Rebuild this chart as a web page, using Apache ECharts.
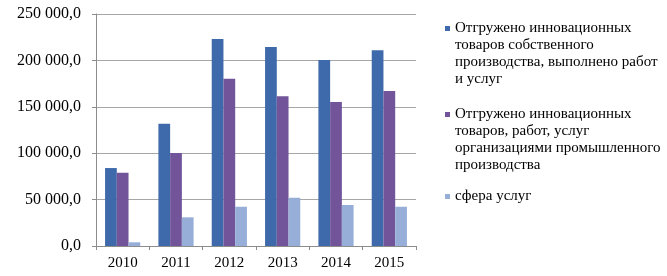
<!DOCTYPE html>
<html>
<head>
<meta charset="utf-8">
<script src="https://cdn.jsdelivr.net/npm/echarts@6/dist/echarts.min.js"></script>
<style>
  html, body { margin: 0; padding: 0; background: #fff; }
  #chart { width: 667px; height: 276px; }
</style>
</head>
<body>
<div id="chart"></div>
<script>
var years = ['2010', '2011', '2012', '2013', '2014', '2015'];

var ownProduction = [84000, 131800, 223000, 214400, 200400, 210900];
var industrialOrgs = [79000, 100300, 180300, 161300, 155200, 167000];
var services = [4000, 30900, 42300, 52000, 44200, 42300];

var seriesNames = [
    'Отгружено инновационных\nтоваров собственного\nпроизводства, выполнено работ\nи услуг',
    'Отгружено инновационных\nтоваров, работ, услуг\nорганизациями промышленного\nпроизводства',
    'сфера услуг'
];

var colors = ['#3e6aab', '#71549a', '#97afd8'];

var fmt = function (v) {
    var s = Math.round(v).toString().replace(/\B(?=(\d{3})+(?!\d))/g, ' ');
    return s + ',0';
};

// square marker sitting on the first text line of a 4-line legend entry
var topIcon = 'path://M0,0L0,0M0,68L0,68M0,6L5,6L5,11L0,11Z';

var legendText = {
    fontFamily: 'Liberation Serif',
    fontSize: 15,
    color: '#000',
    lineHeight: 17
};

var makeLegend = function (name, top, icon, h) {
    return {
        orient: 'vertical',
        left: 445,
        top: top,
        padding: 0,
        itemWidth: 5,
        itemHeight: h,
        icon: icon,
        data: [name],
        textStyle: legendText
    };
};

var chart = echarts.init(document.getElementById('chart'));

chart.setOption({
    animation: false,
    color: colors,
    textStyle: { fontFamily: 'Liberation Serif' },
    grid: { left: 96, right: 251, top: 14, bottom: 30 },
    legend: [
        makeLegend(seriesNames[0], 20, topIcon, 68),
        makeLegend(seriesNames[1], 106, topIcon, 68),
        makeLegend(seriesNames[2], 188, 'rect', 5)
    ],
    xAxis: {
        type: 'category',
        data: years,
        axisLine: { lineStyle: { color: '#8c8c8c' } },
        axisTick: { show: true, length: 4, lineStyle: { color: '#8c8c8c' } },
        axisLabel: { color: '#000', fontSize: 15, margin: 10, fontFamily: 'Liberation Serif' }
    },
    yAxis: {
        type: 'value',
        min: 0,
        max: 250000,
        interval: 50000,
        axisLine: { show: true, lineStyle: { color: '#8c8c8c' } },
        axisTick: { show: true, length: 4, lineStyle: { color: '#8c8c8c' } },
        splitLine: { lineStyle: { color: '#a6a6a6' } },
        axisLabel: {
            color: '#000',
            fontSize: 16,
            margin: 15,
            fontFamily: 'Liberation Serif',
            formatter: fmt
        }
    },
    series: [
        { name: seriesNames[0], type: 'bar', data: ownProduction, barGap: '0%', barCategoryGap: '34%' },
        { name: seriesNames[1], type: 'bar', data: industrialOrgs, barGap: '0%', barCategoryGap: '34%' },
        { name: seriesNames[2], type: 'bar', data: services, barGap: '0%', barCategoryGap: '34%' }
    ]
});
</script>
</body>
</html>
